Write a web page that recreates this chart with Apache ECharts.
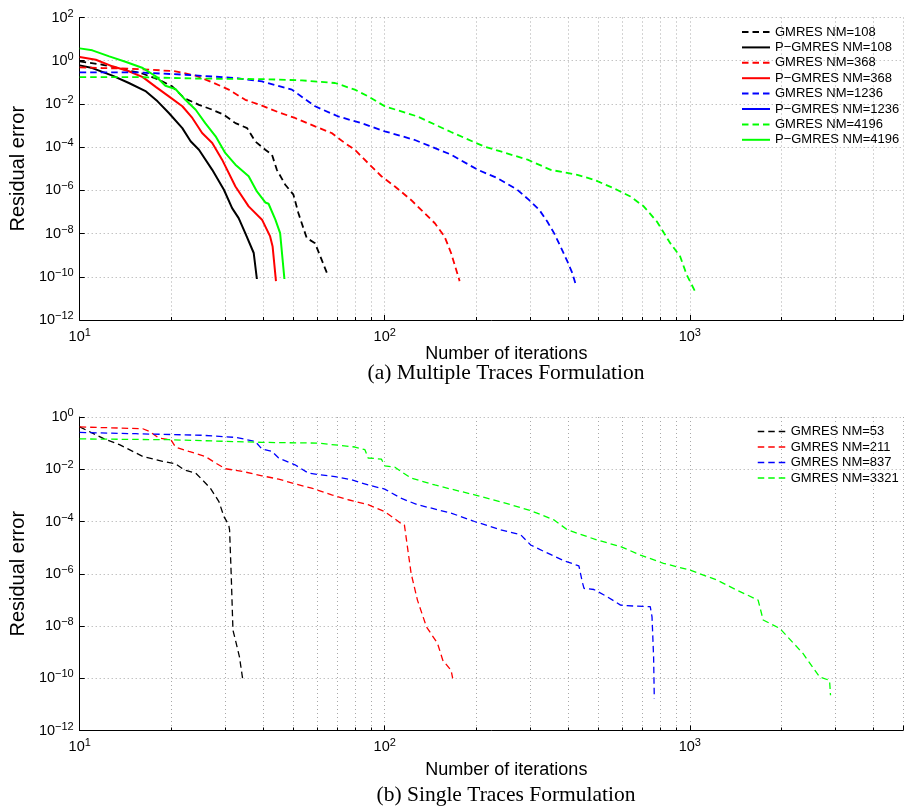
<!DOCTYPE html>
<html><head><meta charset="utf-8">
<script src="https://cdn.jsdelivr.net/npm/echarts@6/dist/echarts.min.js"></script>
<style>html,body{margin:0;padding:0;background:#fff}#c{width:904px;height:808px}</style>
</head><body><div id="c"></div>
<script>
// ---------- (a) Multiple Traces Formulation ----------
const itA_GM108 = [10, 11.9, 14.2, 16.1, 18.2, 20.1, 22, 24.6, 27.2, 29.7, 32.4, 35.4, 37.6, 40.6, 42.7, 44.3, 47.2, 50.2, 52.1, 55.5, 59.1, 62.1, 65.3];
const resA_GM108 = [0.93, 0.65, 0.38, 0.25, 0.132, 6.5e-2, 1.86e-2, 9.1e-3, 5.4e-3, 3.16e-3, 1.29e-3, 7.6e-4, 1.86e-4, 7.6e-5, 4.5e-5, 8.9e-6, 1.82e-6, 6.3e-7, 8.9e-8, 6.2e-9, 3.6e-9, 6.2e-10, 1.05e-10];
const itA_PG108 = [10, 11, 12.8, 14.5, 16.5, 18, 19.6, 21.7, 23.1, 24.6, 27.2, 29.7, 31.6, 33.2, 34.9, 37.2, 38.1];
const resA_PG108 = [0.608, 0.457, 0.204, 9.3e-2, 3.8e-2, 1.32e-2, 3.8e-3, 7.6e-4, 1.86e-4, 7.6e-5, 8.9e-6, 1.07e-6, 1.5e-7, 5.2e-8, 1.05e-8, 1.26e-9, 7.9e-11];
const itA_GM368 = [10, 11.9, 14.5, 17.3, 20.6, 24, 27.2, 30.8, 34.9, 39.6, 44.9, 50.8, 59.1, 67, 74, 79.8, 88.2, 97.5, 108, 122, 135, 146, 157, 165, 176];
const resA_GM368 = [0.49, 0.457, 0.427, 0.38, 0.324, 0.204, 0.1, 4.6e-2, 1.55e-2, 8.3e-3, 4.1e-3, 2.24e-3, 9.1e-4, 4.5e-4, 1.55e-4, 7.6e-5, 1.82e-5, 4.5e-6, 1.51e-6, 3.6e-7, 8.9e-8, 3.0e-8, 7.4e-9, 1.26e-9, 6.3e-11];
const itA_PG368 = [10, 11.3, 12.8, 14.5, 16.1, 17.8, 19.6, 21.7, 23.4, 25.2, 27.2, 29.3, 32.4, 35.8, 39.6, 42.1, 42.9, 44];
const resA_PG368 = [1.48, 1.11, 0.55, 0.324, 0.174, 6.0e-2, 2.24e-2, 7.8e-3, 2.24e-3, 4.5e-4, 1.55e-4, 2.63e-5, 1.51e-6, 1.82e-7, 4.4e-8, 7.4e-9, 2.5e-9, 6.3e-11];
const itA_GM1236 = [10, 15.3, 22.2, 32.4, 39.6, 49.6, 59.1, 70.4, 83.9, 100, 125, 165, 202, 234, 272, 297, 321, 341, 359, 377, 397, 412, 423];
const resA_GM1236 = [0.29, 0.29, 0.224, 0.158, 0.11, 4.6e-2, 7.8e-3, 2.63e-3, 1.29e-3, 5.4e-4, 2.19e-4, 4.5e-5, 8.9e-6, 3.7e-6, 1.07e-6, 3.6e-7, 1.26e-7, 3.6e-8, 1.05e-8, 2.5e-9, 5.1e-10, 1.48e-10, 4.3e-11];
const itA_PG1236 = [];
const resA_PG1236 = [];
const itA_GM4196 = [10, 15.3, 25.2, 39.6, 53.5, 68.7, 79.8, 88.2, 100, 128, 165, 212, 240, 294, 350, 428, 485, 563, 639, 706, 780, 863, 930, 977, 1041];
const resA_GM4196 = [0.175, 0.175, 0.148, 0.141, 0.123, 9.3e-2, 4.6e-2, 2.24e-2, 7.8e-3, 2.63e-3, 5.0e-4, 1.07e-4, 6.3e-5, 2.63e-5, 8.9e-6, 5.2e-6, 3.1e-6, 1.26e-6, 5.2e-7, 1.82e-7, 3.6e-8, 3.6e-9, 8.7e-10, 1.23e-10, 2.1e-11];
const itA_PG4196 = [10, 11, 12.5, 14.2, 16.1, 17.8, 19.1, 20.6, 22.2, 24, 25.8, 27.9, 30, 32.4, 35.8, 38.1, 40.6, 41.6, 43.8, 45.4, 46, 46.9];
const resA_PG4196 = [3.72, 3.02, 1.58, 0.87, 0.457, 0.186, 6.9e-2, 4.9e-2, 1.55e-2, 5.4e-3, 1.29e-3, 3.16e-4, 5.4e-5, 1.55e-5, 4.5e-6, 8.9e-7, 2.75e-7, 2.4e-7, 4.4e-8, 1.05e-8, 8.7e-9, 7.9e-11];

// ---------- (b) Single Traces Formulation ----------
const itB_GM53 = [10, 11.9, 13.5, 16.1, 18.7, 20.6, 22, 24, 25.2, 26.8, 28.6, 29.7, 30.8, 31, 31.4, 31.8, 32.4, 33.4, 34.2];
const resB_GM53 = [0.417, 0.155, 8.7e-2, 3.1e-2, 2.0e-2, 1.62e-2, 9.5e-3, 7.1e-3, 4.0e-3, 1.9e-3, 5.8e-4, 1.55e-4, 7.4e-5, 4.8e-5, 7.8e-7, 6.9e-9, 2.9e-9, 6.6e-10, 9.8e-11];
const itB_GM211 = [10, 16.1, 16.9, 18.2, 19.9, 20.6, 22.8, 25.8, 27.9, 30, 34.1, 39.6, 44.9, 50.8, 57.6, 67, 75.9, 88.2, 100, 113, 116, 122, 128, 137, 149, 155, 165, 167];
const resB_GM211 = [0.417, 0.355, 0.282, 0.155, 0.135, 7.1e-2, 4.8e-2, 3.1e-2, 1.74e-2, 1.05e-2, 8.3e-3, 5.6e-3, 4.2e-3, 2.75e-3, 1.9e-3, 1.05e-3, 6.8e-4, 4.4e-4, 2.4e-4, 8.5e-5, 7.4e-5, 1.05e-6, 9.8e-8, 9.3e-9, 2.14e-9, 4.9e-10, 2.0e-10, 1.0e-10];
const itB_GM837 = [10, 15.3, 25.2, 32.4, 37.6, 39.6, 42.7, 44.9, 50.8, 56.2, 68.7, 77.8, 88.2, 100, 113, 128, 165, 197, 240, 279, 301, 333, 387, 433, 444, 450, 485, 536, 593, 655, 742, 752, 761, 765];
const resB_GM837 = [0.257, 0.229, 0.2, 0.166, 0.117, 5.9e-2, 4.8e-2, 2.7e-2, 1.48e-2, 7.1e-3, 5.2e-3, 4.0e-3, 2.5e-3, 1.74e-3, 7.8e-4, 4.4e-4, 2.1e-4, 1.0e-4, 4.8e-5, 3.1e-5, 1.26e-5, 7.1e-6, 3.16e-6, 2.0e-6, 5.0e-7, 2.75e-7, 2.5e-7, 1.32e-7, 6.3e-8, 5.8e-8, 5.5e-8, 2.24e-8, 6.6e-10, 1.66e-11];
const itB_GM3321 = [10, 19.6, 39.6, 60.6, 79.8, 86.1, 88.2, 97.5, 100, 108, 113, 122, 146, 165, 197, 259, 301, 359, 397, 497, 593, 689, 820, 1002, 1225, 1423, 1675, 1740, 1972, 2350, 2665, 2872, 2893];
const resB_GM3321 = [0.145, 0.135, 0.107, 0.1, 7.1e-2, 5.6e-2, 2.7e-2, 2.45e-2, 1.35e-2, 1.2e-2, 8.3e-3, 4.6e-3, 2.5e-3, 1.74e-3, 1.05e-3, 4.4e-4, 2.6e-4, 1.15e-4, 4.8e-5, 1.95e-5, 1.1e-5, 5.2e-6, 2.5e-6, 1.38e-6, 5.8e-7, 2.4e-7, 9.8e-8, 1.7e-8, 8.1e-9, 8.9e-10, 1.12e-10, 8.3e-11, 2.24e-11];

const namesA = ['GMRES NM=108', 'P\u2212GMRES NM=108', 'GMRES NM=368', 'P\u2212GMRES NM=368', 'GMRES NM=1236', 'P\u2212GMRES NM=1236', 'GMRES NM=4196', 'P\u2212GMRES NM=4196'];
const namesB = ['GMRES NM=53', 'GMRES NM=211', 'GMRES NM=837', 'GMRES NM=3321'];
const xAxisNames = ['Number of iterations', 'Number of iterations'];
const yAxisNames = ['Residual error', 'Residual error'];
const captions = ['(a) Multiple Traces Formulation', '(b) Single Traces Formulation'];

const SANS = 'Liberation Sans';
const pairs = (xs, ys) => xs.map((x, i) => [x, ys[i]]);

function powLabel(v) {
  const e = Math.log10(v);
  const r = Math.round(e);
  if (Math.abs(e - r) > 1e-6) return '';
  const s = r < 0 ? '\u2212' + (-r) : '' + r;
  return '{b|10}{s|' + s + '}';
}
const labelRich = {
  b: {fontSize: 14.5, lineHeight: 19, color: '#000', fontFamily: SANS},
  s: {fontSize: 11, lineHeight: 9, verticalAlign: 'top', color: '#000', fontFamily: SANS}
};
const gridLine = {show: true, lineStyle: {color: '#a8a8a8', width: 1, type: [1, 3]}};

function xAxis(gi, nameGap) {
  return {
    type: 'log', logBase: 10, min: 10, max: 5000, gridIndex: gi,
    axisLine: {show: true, lineStyle: {color: '#000', width: 1}},
    axisTick: {show: true, inside: true, length: 5, lineStyle: {color: '#000'}},
    minorTick: {show: true, splitNumber: 9, length: 3, lineStyle: {color: '#000'}},
    splitLine: gridLine,
    minorSplitLine: gridLine,
    axisLabel: {formatter: powLabel, rich: labelRich, margin: 7, showMaxLabel: false},
    name: xAxisNames[gi], nameLocation: 'middle', nameGap: nameGap,
    nameTextStyle: {fontSize: 18, color: '#000', fontFamily: SANS, padding: [0, 0, 0, 30]}
  };
}
function yAxis(gi, max) {
  return {
    type: 'log', logBase: 100, min: 1e-12, max: max, gridIndex: gi,
    axisLine: {show: true, lineStyle: {color: '#000', width: 1}},
    axisTick: {show: true, inside: true, length: 5, lineStyle: {color: '#000'}},
    splitLine: gridLine,
    axisLabel: {formatter: powLabel, rich: labelRich, margin: 6},
    name: yAxisNames[gi], nameLocation: 'middle', nameGap: 48,
    nameTextStyle: {fontSize: 20, color: '#000', fontFamily: SANS}
  };
}

function line(name, xs, ys, color, dashed, gi, w) {
  return {
    name: name, type: 'line', xAxisIndex: gi, yAxisIndex: gi,
    data: pairs(xs, ys), symbol: 'none', showSymbol: false, silent: true,
    lineStyle: {color: color, width: w, type: dashed ? [6.5, 4] : 'solid'},
    itemStyle: {color: color}
  };
}

const series = [
  line(namesA[0], itA_GM108, resA_GM108, '#000000', true, 0, 1.8),
  line(namesA[1], itA_PG108, resA_PG108, '#000000', false, 0, 2),
  line(namesA[2], itA_GM368, resA_GM368, '#ff0000', true, 0, 1.8),
  line(namesA[3], itA_PG368, resA_PG368, '#ff0000', false, 0, 2),
  line(namesA[4], itA_GM1236, resA_GM1236, '#0000ff', true, 0, 1.8),
  line(namesA[5], itA_PG1236, resA_PG1236, '#0000ff', false, 0, 2),
  line(namesA[6], itA_GM4196, resA_GM4196, '#00ff00', true, 0, 1.8),
  line(namesA[7], itA_PG4196, resA_PG4196, '#00ff00', false, 0, 2),
  line(namesB[0], itB_GM53, resB_GM53, '#000000', true, 1, 1.3),
  line(namesB[1], itB_GM211, resB_GM211, '#ff0000', true, 1, 1.3),
  line(namesB[2], itB_GM837, resB_GM837, '#0000ff', true, 1, 1.3),
  line(namesB[3], itB_GM3321, resB_GM3321, '#00ff00', true, 1, 1.3)
];

const legendText = {fontSize: 13, color: '#000', fontFamily: SANS, lineHeight: 14};
const chart = echarts.init(document.getElementById('c'), null, {renderer: 'canvas'});
chart.setOption({
  animation: false,
  backgroundColor: '#fff',
  title: [
    {text: captions[0], left: 506, top: 362, textAlign: 'center', padding: 0,
     textStyle: {fontFamily: 'Liberation Serif', fontSize: 21.5, fontWeight: 'normal', color: '#000'}},
    {text: captions[1], left: 506, top: 784, textAlign: 'center', padding: 0,
     textStyle: {fontFamily: 'Liberation Serif', fontSize: 21.5, fontWeight: 'normal', color: '#000'}}
  ],
  grid: [
    {left: 77, top: 17.5, right: 1, height: 302.5},
    {left: 77, top: 417, right: 1, height: 313.5}
  ],
  xAxis: [xAxis(0, 20), xAxis(1, 31)],
  yAxis: [yAxis(0, 1e2), yAxis(1, 1)],
  legend: [
    {data: namesA, orient: 'vertical', left: 741, top: 25, padding: 0, itemWidth: 28, itemHeight: 14, itemGap: 1.4,
     textStyle: legendText, lineStyle: {width: 2}, itemStyle: {opacity: 0}, selectedMode: false},
    {data: namesB, orient: 'vertical', left: 757, top: 424.5, padding: 0, itemWidth: 28, itemHeight: 14, itemGap: 1.5,
     textStyle: legendText, lineStyle: {width: 1.5}, itemStyle: {opacity: 0}, selectedMode: false}
  ],
  series: series
});
</script>
</body></html>
